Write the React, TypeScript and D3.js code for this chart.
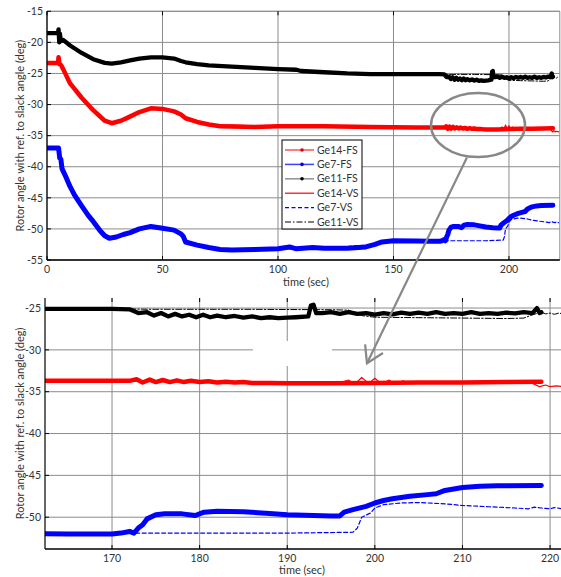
import React from 'react';
import * as d3 from 'd3';

// ---------- data ----------
const ge14FsT = [0, 4.8, 5, 5.4, 6, 7, 10, 15, 20, 25, 28, 32, 35, 40, 45, 50, 55, 58, 60, 65, 70, 75, 90, 100, 120, 140, 160, 170, 172, 172.8, 173.5, 174.3, 175, 175.8, 176.6, 177.4, 178.2, 179, 180, 181, 182, 183, 184, 185, 186, 188, 190, 195, 200, 205, 210, 215, 219];
const ge14FsV = [-23.3, -23.3, -22.4, -23.5, -23.6, -24.3, -26.6, -28.9, -30.9, -32.6, -33.0, -32.6, -32.1, -31.2, -30.6, -30.7, -31.1, -31.6, -32.2, -32.8, -33.2, -33.5, -33.6, -33.5, -33.5, -33.6, -33.7, -33.7, -33.7, -33.5, -33.9, -33.55, -33.85, -33.6, -33.85, -33.65, -33.85, -33.7, -33.85, -33.75, -33.9, -33.8, -33.9, -33.85, -33.95, -33.95, -34.0, -34.0, -33.95, -33.9, -33.9, -33.85, -33.8];

const ge7FsT = [0, 5, 5.5, 6, 6.5, 7, 8, 10, 12, 15, 18, 20, 23, 25, 27, 30, 33, 36, 40, 45, 50, 55, 58, 59, 60, 65, 70, 75, 80, 90, 100, 105, 108, 115, 120, 130, 138, 142, 145, 150, 160, 165, 170, 171, 172, 172.5, 173, 173.5, 174, 175, 176, 178, 179.5, 180.5, 182, 185, 188, 190, 193, 195, 196, 196.5, 197.5, 199, 200, 201, 202, 204, 206, 207, 208, 210, 212, 214, 219];
const ge7FsV = [-37.0, -37.0, -38.6, -38.8, -40.3, -40.7, -41.5, -43.2, -44.6, -46.3, -47.9, -48.8, -50.3, -51.1, -51.5, -51.3, -50.9, -50.6, -50.0, -49.6, -49.9, -50.2, -50.8, -51.2, -52.1, -52.6, -53.0, -53.3, -53.4, -53.3, -53.2, -52.9, -53.2, -53.0, -53.1, -53.1, -52.9, -52.5, -52.1, -51.9, -51.95, -52.0, -52.0, -51.9, -51.7, -51.9, -51.3, -50.9, -50.2, -49.7, -49.6, -49.6, -49.8, -49.4, -49.3, -49.35, -49.55, -49.7, -49.8, -49.85, -49.85, -49.4, -49.1, -48.7, -48.3, -48.0, -47.8, -47.5, -47.3, -47.2, -46.8, -46.45, -46.3, -46.25, -46.2];

const ge11FsT = [0, 4.8, 5, 5.3, 5.6, 6, 7, 10, 15, 20, 25, 28, 32, 36, 40, 45, 50, 55, 58, 60, 65, 70, 80, 90, 100, 108, 110, 120, 130, 140, 150, 160, 170, 172, 173, 174, 174.8, 175.6, 176.4, 177.2, 178, 178.8, 179.6, 180.4, 181.2, 182, 183, 184, 185, 186, 187, 188, 189, 190, 191, 192.4, 192.7, 193, 193.3, 194, 195, 196, 197, 198, 199, 200, 201, 202, 203, 204, 205, 206, 207, 208, 209, 210, 211, 212, 213, 214, 215, 216, 217, 218, 218.5, 218.8, 219];
const ge11FsV = [-18.5, -18.5, -17.9, -20.0, -18.6, -19.8, -19.6, -20.5, -21.7, -22.7, -23.3, -23.4, -23.2, -22.9, -22.6, -22.4, -22.4, -22.6, -23.0, -23.2, -23.5, -23.7, -23.9, -24.1, -24.3, -24.4, -24.6, -24.8, -25.0, -25.1, -25.1, -25.1, -25.1, -25.15, -25.6, -25.5, -25.9, -25.6, -26.0, -25.7, -26.0, -25.8, -26.1, -25.8, -26.1, -25.9, -26.1, -25.95, -26.15, -26.0, -26.2, -26.1, -26.2, -26.15, -26.1, -26.0, -24.7, -24.6, -25.6, -25.6, -25.5, -25.7, -25.5, -25.7, -25.6, -25.8, -25.6, -25.75, -25.55, -25.7, -25.55, -25.7, -25.5, -25.7, -25.6, -25.7, -25.5, -25.7, -25.6, -25.7, -25.55, -25.65, -25.5, -25.6, -25.0, -25.6, -25.5];

const ge14VsT = [0, 4.8, 5, 5.4, 6, 10, 15, 20, 25, 28, 35, 45, 55, 60, 70, 100, 140, 170, 190, 195, 196, 197, 197.7, 198.5, 199.3, 200, 200.8, 201.6, 202.4, 203.2, 204, 205, 206, 208, 210, 215, 218, 218.8, 219.5, 220, 220.7, 221.5];
const ge14VsV = [-23.3, -23.3, -22.4, -23.5, -23.6, -26.6, -28.9, -30.9, -32.6, -33.0, -32.1, -30.6, -31.1, -32.2, -33.2, -33.5, -33.6, -33.7, -34.0, -34.0, -33.9, -33.6, -34.1, -33.3, -34.0, -33.4, -34.1, -33.6, -34.1, -33.7, -34.0, -33.8, -34.0, -33.9, -34.0, -33.95, -34.0, -34.4, -34.2, -34.4, -34.3, -34.4];

const ge7VsT = [0, 5, 6, 7, 10, 15, 20, 25, 27, 33, 40, 45, 50, 55, 59, 60, 70, 80, 100, 120, 142, 150, 170, 171.5, 180, 190, 197.5, 198, 198.5, 199.5, 200, 201, 203, 205, 208, 210, 213, 216, 217.5, 218.2, 219, 220, 220.5, 221.5];
const ge7VsV = [-37.0, -37.0, -38.8, -40.7, -43.2, -46.3, -48.8, -51.1, -51.5, -50.9, -50.0, -49.6, -49.9, -50.2, -51.2, -52.1, -53.0, -53.4, -53.2, -53.1, -52.5, -51.9, -52.0, -51.9, -51.9, -51.9, -51.8, -51.3, -50.0, -49.5, -48.9, -48.5, -48.3, -48.25, -48.4, -48.6, -48.75, -48.9, -49.0, -48.8, -48.9, -49.0, -48.85, -49.0];

const ge11VsT = [0, 4.8, 5, 5.3, 6, 10, 20, 28, 45, 55, 60, 70, 100, 130, 170, 175, 185, 195, 197, 198.5, 200, 205, 210, 215, 217, 218, 219, 219.5, 220, 220.5, 221, 221.5];
const ge11VsV = [-18.5, -18.5, -17.9, -20.0, -19.8, -20.5, -22.7, -23.4, -22.4, -22.6, -23.2, -23.7, -24.3, -25.0, -25.1, -25.15, -25.15, -25.2, -25.25, -25.9, -26.1, -26.15, -26.2, -26.25, -26.2, -25.8, -25.5, -25.7, -25.6, -25.75, -25.6, -25.7];

const topXTicks = [0, 50, 100, 150, 200];
const topYTicks = [-15, -20, -25, -30, -35, -40, -45, -50, -55];
const botXTicks = [170, 180, 190, 200, 210, 220];
const botYTicks = [-25, -30, -35, -40, -45, -50];
const legendLabels = ['Ge14-FS', 'Ge7-FS', 'Ge11-FS', 'Ge14-VS', 'Ge7-VS', 'Ge11-VS'];

const xLabel = 'time (sec)';
const yLabel = 'Rotor angle with ref. to slack angle (deg)';

// ---------- styles ----------
type Series = { name: string; t: number[]; v: number[]; color: string; width: number; dash?: string; legendColor: string; marker?: string };
const series: Series[] = [
  { name: legendLabels[0], t: ge14FsT, v: ge14FsV, color: '#ff0000', width: 4.5, legendColor: '#ff5050', marker: '#e00000' },
  { name: legendLabels[1], t: ge7FsT, v: ge7FsV, color: '#0000ff', width: 5, legendColor: '#4040ff', marker: '#0000d0' },
  { name: legendLabels[2], t: ge11FsT, v: ge11FsV, color: '#000000', width: 4.3, legendColor: '#909090', marker: '#000' },
  { name: legendLabels[3], t: ge14VsT, v: ge14VsV, color: '#ff0000', width: 1.2, legendColor: '#ff0000' },
  { name: legendLabels[4], t: ge7VsT, v: ge7VsV, color: '#0000ff', width: 1.2, dash: '4,2.5', legendColor: '#0000ff' },
  { name: legendLabels[5], t: ge11VsT, v: ge11VsV, color: '#000000', width: 1, dash: '6,2,1.5,2', legendColor: '#000' },
];

const FONT = 'Lato, "Open Sans", sans-serif';
const TXT = '#333';
const GRID = '#8c8c8c';

type PanelProps = {
  id: string;
  xDomain: [number, number];
  xRange: [number, number];
  yDomain: [number, number];
  yRange: [number, number];
  xTicks: number[];
  yTicks: number[];
  xLabelY: number;
  xLabelX: number;
  boxTop: boolean;
  children?: (x: d3.ScaleLinear<number, number>, y: d3.ScaleLinear<number, number>) => React.ReactNode;
};

function Panel(p: PanelProps) {
  const x = d3.scaleLinear().domain(p.xDomain).range(p.xRange);
  const y = d3.scaleLinear().domain(p.yDomain).range(p.yRange);
  const [x0, x1] = p.xRange;
  const [yb, yt] = p.yRange;
  const line = d3.line<[number, number]>().x((d) => x(d[0])).y((d) => y(d[1]));
  const yLabelCenter = (yb + yt) / 2;
  return (
    <g>
      <defs>
        <clipPath id={p.id}>
          <rect x={x0} y={yt} width={x1 - x0} height={yb - yt} />
        </clipPath>
      </defs>
      {/* grid */}
      {p.yTicks.map((v) => (
        <line key={'gy' + v} x1={x0} x2={x1} y1={y(v)} y2={y(v)} stroke={GRID} strokeWidth={1} />
      ))}
      {p.xTicks.map((v) => (
        <line key={'gx' + v} x1={x(v)} x2={x(v)} y1={yt} y2={yb} stroke={GRID} strokeWidth={1} />
      ))}
      {p.boxTop && <line x1={x0} x2={x1} y1={yt} y2={yt} stroke={GRID} strokeWidth={1} />}
      {p.boxTop && <line x1={x1} x2={x1} y1={yt} y2={yb} stroke={GRID} strokeWidth={1} />}
      {p.children && p.children(x, y)}
      {/* data */}
      <g clipPath={`url(#${p.id})`}>
        {series.map((s) => (
          <path
            key={s.name}
            d={line(s.t.map((t, i) => [t, s.v[i]] as [number, number])) || ''}
            fill="none"
            stroke={s.color}
            strokeWidth={s.width}
            strokeDasharray={s.dash}
            strokeLinejoin="round"
            strokeLinecap="round"
          />
        ))}
      </g>
      {/* axes */}
      <line x1={x0} x2={x0} y1={yt} y2={yb} stroke="#000" strokeWidth={1.2} />
      <line x1={x0} x2={x1} y1={yb} y2={yb} stroke="#000" strokeWidth={1.5} />
      {p.yTicks.map((v) => (
        <g key={'ty' + v}>
          <line x1={x0} x2={x0 + 4} y1={y(v)} y2={y(v)} stroke="#000" />
          <text x={x0 - 4} y={y(v)} dy="0.35em" textAnchor="end" fontSize={10.5} fontFamily={FONT} fill={TXT}>
            {v}
          </text>
        </g>
      ))}
      {p.xTicks.map((v) => (
        <g key={'tx' + v}>
          <line x1={x(v)} x2={x(v)} y1={yb} y2={yb - 4} stroke="#000" />
          <line x1={x(v)} x2={x(v)} y1={yt} y2={yt + 4} stroke="#000" />
          <text x={x(v)} y={yb + 9} dy="0.35em" textAnchor="middle" fontSize={10.5} fontFamily={FONT} fill={TXT}>
            {v}
          </text>
        </g>
      ))}
      <text x={p.xLabelX} y={p.xLabelY} dy="0.35em" textAnchor="middle" fontSize={11} fontFamily={FONT} fill={TXT}>
        {xLabel}
      </text>
      <text
        transform={`translate(20,${yLabelCenter}) rotate(-90)`}
        textAnchor="middle"
        dy="0.35em"
        fontSize={11}
        fontFamily={FONT}
        fill={TXT}
      >
        {yLabel}
      </text>
    </g>
  );
}

function Legend() {
  const lx = 282;
  const ly = 140;
  const w = 80;
  const h = 89;
  const step = 14.4;
  return (
    <g>
      <rect x={lx} y={ly} width={w} height={h} fill="#fff" stroke="#000" strokeWidth={1} />
      {series.map((s, i) => {
        const cy = ly + 10 + i * step;
        return (
          <g key={s.name}>
            <line x1={lx + 3} x2={lx + 32} y1={cy} y2={cy} stroke={s.legendColor} strokeWidth={s.marker ? 1.5 : 1.2} strokeDasharray={s.dash} />
            {s.marker && <circle cx={lx + 20} cy={cy} r={1.8} fill={s.marker} />}
            <text x={lx + 35} y={cy} dy="0.35em" fontSize={10.5} fontFamily={FONT} fill={TXT}>
              {s.name}
            </text>
          </g>
        );
      })}
    </g>
  );
}

export default function App() {
  // annotation anchors in data space
  const ellT = 186.6;
  const ellV = -33.3;
  const arrowFrom: [number, number] = [181.8, -38.5];
  const arrowTo: [number, number] = [199.1, -31.6];

  const topX = d3.scaleLinear().domain([0, 222]).range([47, 559.8]);
  const topY = d3.scaleLinear().domain([-55, -15]).range([260, 11.3]);
  const botX = d3.scaleLinear().domain([162.35, 222]).range([45, 567.6]);
  const botY = d3.scaleLinear().domain([-53.8, -23.8]).range([549, 298]);

  const ax0 = topX(arrowFrom[0]);
  const ay0 = topY(arrowFrom[1]);
  const ax1 = botX(arrowTo[0]);
  const ay1 = botY(arrowTo[1]);
  const ang = Math.atan2(ay1 - ay0, ax1 - ax0);
  const headLen = 19;
  const spread = 0.55;
  const h1: [number, number] = [ax1 - headLen * Math.cos(ang - spread), ay1 - headLen * Math.sin(ang - spread)];
  const h2: [number, number] = [ax1 - headLen * Math.cos(ang + spread), ay1 - headLen * Math.sin(ang + spread)];

  return (
    <svg width={561} height={577} style={{ position: 'absolute', left: 0, top: 0, background: '#fff' }}>
      <rect width={561} height={577} fill="#fff" />
      <Panel
        id="clipTop"
        xDomain={[0, 222]}
        xRange={[47, 559.8]}
        yDomain={[-55, -15]}
        yRange={[260, 11.3]}
        xTicks={topXTicks}
        yTicks={topYTicks}
        xLabelX={306}
        xLabelY={282}
        boxTop={true}
      />
      <Legend />
      <ellipse cx={topX(ellT)} cy={topY(ellV)} rx={47} ry={32} fill="none" stroke="#888" strokeWidth={2.5} />
      <Panel
        id="clipBot"
        xDomain={[162.35, 222]}
        xRange={[45, 567.6]}
        yDomain={[-53.8, -23.8]}
        yRange={[549, 298]}
        xTicks={botXTicks}
        yTicks={botYTicks}
        xLabelX={302}
        xLabelY={570}
        boxTop={false}
      >
        {() => <rect x={253} y={341} width={79} height={25} fill="#fff" />}
      </Panel>
      <line x1={ax0} y1={ay0} x2={ax1} y2={ay1} stroke="#888" strokeWidth={2.2} />
      <polyline points={`${h1[0]},${h1[1]} ${ax1},${ay1} ${h2[0]},${h2[1]}`} fill="none" stroke="#888" strokeWidth={2.2} />
    </svg>
  );
}
